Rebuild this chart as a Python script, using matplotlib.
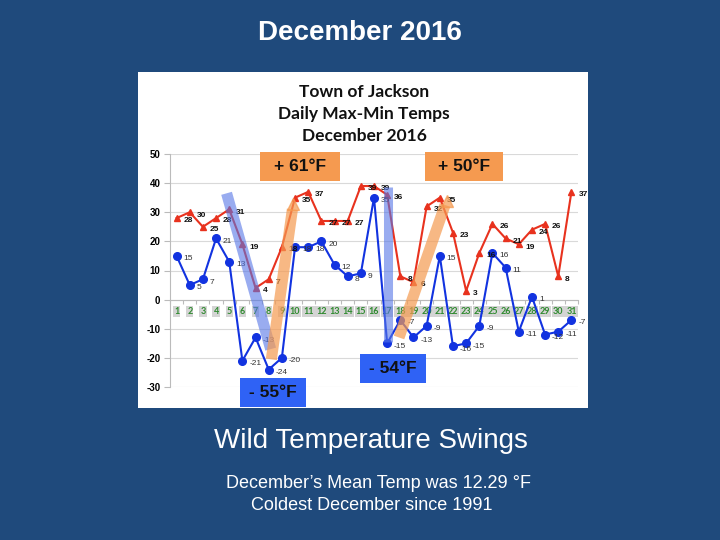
import numpy as np
import matplotlib.pyplot as plt
from matplotlib.patches import Rectangle

# Town of Jackson, daily max / min temps, December 2016 (deg F)
days = list(range(1, 32))
t_max = [28, 30, 25, 28, 31, 19, 4, 7, 18, 35, 37, 27, 27, 27, 39, 39, 36,
         8, 6, 32, 35, 23, 3, 16, 26, 21, 19, 24, 26, 8, 37]
t_min = [15, 5, 7, 21, 13, -21, -13, -24, -20, 18, 18, 20, 12, 8, 9, 35, -15,
         -7, -13, -9, 15, -16, -15, -9, 16, 11, -11, 1, -12, -11, -7]
y_ticks = [-30, -20, -10, 0, 10, 20, 30, 40, 50]
swings = ['+ 61°F', '+ 50°F', '- 55°F', '- 54°F']

bg = '#1f4a7c'
red = '#e8321e'
blue = '#1233e0'
orange = '#f59a50'
box_blue = '#2f62f5'

W, H = 720, 540
fig = plt.figure(figsize=(7.2, 5.4), dpi=100, facecolor=bg)

def px(x, y):
    # pixel coords (top-left origin) -> figure fraction
    return x / W, 1 - y / H

# white chart panel, behind the axes
x0, y0 = px(138, 408)
fig.patches.append(Rectangle((x0, y0), 450 / W, 336 / H, transform=fig.transFigure,
                             facecolor='white', edgecolor='none', zorder=-1))

ax = fig.add_axes([170 / W, 1 - 387 / H, 408 / W, 233 / H])
ax.set_facecolor('none')
ax.set_xlim(0.5, 31.5)
ax.set_ylim(-30, 50)
ax.set_yticks(y_ticks)
ax.set_yticklabels([str(v) for v in y_ticks], fontsize=7, fontweight='bold',
                   family='Liberation Sans')
ax.tick_params(axis='y', length=4, color='#bbbbbb', pad=3)
ax.grid(axis='y', color='#d9d9d9', lw=0.8)
ax.set_axisbelow(True)
for s in ['top', 'right']:
    ax.spines[s].set_visible(False)
ax.spines['left'].set_color('#bbbbbb')
ax.spines['bottom'].set_position(('data', 0))
ax.spines['bottom'].set_color('#bbbbbb')
ax.set_xticks(np.arange(0.5, 32, 1))
ax.set_xticklabels([])
ax.tick_params(axis='x', length=3, color='#bbbbbb', direction='out')

ax.plot(days, t_max, color=red, lw=1.5, marker='^', ms=5, zorder=3)
ax.plot(days, t_min, color=blue, lw=1.5, marker='o', ms=5.5, zorder=3)

for d, v in zip(days, t_max):
    ax.annotate(str(v), (d, v), xytext=(5, -2), textcoords='offset points',
                fontsize=6, fontweight='bold', color='#111111', va='center',
                family='Liberation Sans', zorder=4)
for d, v in zip(days, t_min):
    ax.annotate(str(v), (d, v), xytext=(5, -2), textcoords='offset points',
                fontsize=6, color='#333333', va='center',
                family='Liberation Sans', zorder=4)

# day labels in grey boxes
for d in days:
    ax.text(d, -4, str(d), ha='center', va='center', fontsize=6.5, fontweight='bold',
            color='#2f8a2f', family='Lato', zorder=2,
            bbox=dict(boxstyle='square,pad=0.12', fc='#d4d4d4', ec='none'))

# translucent swing bands
ax.plot([4.8, 8.15], [36.5, -17], color='#5575e6', lw=8, alpha=0.6,
        solid_capstyle='butt', zorder=5)
ax.plot([8.2, 9.8], [-20.5, 31], color=orange, lw=8, alpha=0.7,
        solid_capstyle='butt', zorder=5)
ax.plot([17.05, 17.05], [38.5, -14.5], color='#5575e6', lw=6.5, alpha=0.6,
        solid_capstyle='butt', zorder=5)
ax.plot([17.9, 21.4], [-13, 32.5], color=orange, lw=8, alpha=0.7,
        solid_capstyle='butt', zorder=5)
ax.plot([9.85], [33], marker='^', ms=8, color=orange, alpha=0.7, zorder=5)
ax.plot([21.55], [34], marker='^', ms=8, color=orange, alpha=0.7, zorder=5)

# swing boxes (pixel rects: left, top, right, bottom)
rects = [(260, 152, 340, 181, orange),
         (425, 152, 503, 181, orange),
         (240, 378, 306, 407, box_blue),
         (360, 354, 426, 383, box_blue)]
for (l, t, r, b, c), label in zip(rects, swings):
    bx, by = px(l, b)
    fig.patches.append(Rectangle((bx, by), (r - l) / W, (b - t) / H,
                                 transform=fig.transFigure, facecolor=c,
                                 edgecolor='none', zorder=6))
    cx, cy = px((l + r) / 2, (t + b) / 2)
    fig.text(cx, cy, label, ha='center', va='center', fontsize=12.5,
             fontweight='bold', color='#111111', family='Liberation Sans', zorder=7)

# chart title
for y, line in zip([92, 114, 136], ['Town of Jackson', 'Daily Max-Min Temps', 'December 2016']):
    fig.text(*px(364, y), line, ha='center', va='center', fontsize=12.5,
             fontweight='bold', color='#111111', family='Lato')

# slide text
fig.text(*px(360, 33), 'December 2016', ha='center', va='center', fontsize=20,
         fontweight='bold', color='white', family='Liberation Sans')
fig.text(*px(371, 441), 'Wild Temperature Swings', ha='center', va='center',
         fontsize=20, color='white', family='Liberation Sans')
fig.text(*px(378, 483), 'December\u2019s Mean Temp was 12.29 °F', ha='center',
         va='center', fontsize=13, color='white', family='Liberation Sans')
fig.text(*px(372, 505), 'Coldest December since 1991', ha='center', va='center',
         fontsize=13, color='white', family='Liberation Sans')

fig.savefig('out.png', dpi=100, facecolor=bg)
